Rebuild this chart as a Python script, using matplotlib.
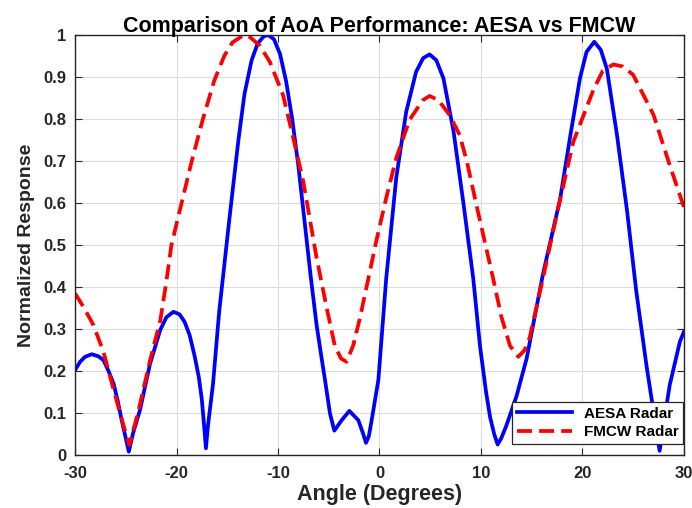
"""AoA comparison: AESA vs FMCW normalized response."""

import matplotlib.pyplot as plt

plt.rcParams["font.family"] = ["Liberation Sans", "DejaVu Sans"]
plt.rcParams["font.weight"] = "bold"
plt.rcParams["axes.unicode_minus"] = False

# values
aesa_angle = [-30, -29.5, -29.0, -28.35, -27.7, -27.2, -26.7, -26.2, -25.8, -25.4,
              -25.0, -24.7, -24.3, -23.6, -22.6, -21.6, -21.0, -20.3, -19.7, -19.2,
              -18.7, -18.2, -17.8, -17.5, -17.3, -17.1, -16.9, -16.4, -15.8, -14.8,
              -13.9, -13.3, -12.6, -12.0, -11.4, -10.95, -10.4, -9.8, -9.2, -8.6,
              -8.0, -7.4, -6.8, -6.2, -5.7, -5.37, -4.88, -4.45, -3.72, -2.97,
              -2.09, -1.6, -1.33, -1.05, -0.77, -0.11, 0.66, 1.65, 2.63, 3.6,
              4.3, 4.93, 5.6, 6.3, 7.3, 8.25, 9.24, 9.9, 10.5, 10.9,
              11.3, 11.64, 12.0, 12.5, 13.5, 14.5, 16.1, 17.8, 18.8, 19.75,
              20.4, 21.16, 21.8, 22.4, 23.4, 24.4, 25.3, 26.3, 27.1, 27.6,
              28.1, 28.6, 29.6, 30]
aesa_resp = [0.202, 0.222, 0.234, 0.240, 0.235, 0.226, 0.20, 0.17, 0.13, 0.083,
             0.04, 0.008, 0.05, 0.107, 0.218, 0.298, 0.328, 0.341, 0.335, 0.317,
             0.285, 0.234, 0.185, 0.131, 0.075, 0.016, 0.07, 0.17, 0.34, 0.56,
             0.75, 0.86, 0.94, 0.98, 0.997, 1.0, 0.99, 0.955, 0.89, 0.80,
             0.69, 0.56, 0.43, 0.31, 0.23, 0.179, 0.099, 0.058, 0.083, 0.105,
             0.083, 0.05, 0.029, 0.045, 0.083, 0.179, 0.42, 0.66, 0.817, 0.912,
             0.945, 0.954, 0.94, 0.897, 0.77, 0.603, 0.42, 0.26, 0.15, 0.09,
             0.05, 0.025, 0.04, 0.07, 0.14, 0.23, 0.43, 0.61, 0.76, 0.897,
             0.96, 0.984, 0.965, 0.92, 0.762, 0.58, 0.39, 0.214, 0.088, 0.01,
             0.09, 0.167, 0.27, 0.294]

fmcw_angle = [-30, -29.1, -28.2, -27.2, -26.1, -25.1, -24.65, -23.8, -22.6, -21.6,
              -21.0, -20.5, -19.5, -18.5, -17.4, -16.3, -15.3, -14.5, -13.4, -12.75,
              -11.8, -10.8, -9.5, -8.5, -7.5, -6.2, -5.2, -4.4, -3.8, -3.25,
              -2.6, -1.93, -1.1, -0.33, 0.66, 1.65, 2.96, 4.27, 4.93, 5.8,
              6.9, 7.9, 8.6, 9.6, 11.2, 12.0, 12.86, 13.68, 14.3, 14.8,
              16.1, 17.45, 19.1, 21.07, 22.0, 23.04, 24.0, 25.0, 27.0, 28.6,
              30]
fmcw_resp = [0.385, 0.35, 0.31, 0.246, 0.147, 0.06, 0.024, 0.10, 0.226, 0.32,
             0.413, 0.50, 0.60, 0.70, 0.80, 0.89, 0.95, 0.982, 1.0, 0.995,
             0.975, 0.936, 0.857, 0.755, 0.65, 0.47, 0.35, 0.26, 0.23, 0.222,
             0.26, 0.326, 0.42, 0.508, 0.612, 0.707, 0.798, 0.845, 0.855, 0.845,
             0.81, 0.762, 0.70, 0.59, 0.42, 0.33, 0.26, 0.234, 0.25, 0.28,
             0.42, 0.571, 0.746, 0.869, 0.915, 0.93, 0.925, 0.905, 0.81, 0.69,
             0.59]

fig = plt.figure(figsize=(6.92, 5.08), dpi=100)
ax = fig.add_axes([0.1084, 0.1043, 0.88, 0.8267])

ax.plot(aesa_angle, aesa_resp, color="#0000ff", lw=2.7, label="AESA Radar")
ax.plot(fmcw_angle, fmcw_resp, color="#ff0000", lw=2.7, ls=(0, (4, 1.9)),
        label="FMCW Radar")

ax.set_xlim(-30, 30)
ax.set_ylim(0, 1)
ax.set_xticks(range(-30, 31, 10))
ax.set_yticks([i / 10 for i in range(11)])
ax.set_yticklabels(["0"] + [f"{i / 10:.1f}" for i in range(1, 10)] + ["1"])
ax.grid(True, color="#dcdcdc", lw=0.8)
ax.set_axisbelow(True)
ax.tick_params(direction="in", top=True, right=True, labelsize=12,
               colors="#262626", length=5, width=0.8)
ax.tick_params(axis="x", pad=8)
ax.tick_params(axis="y", pad=6)
for s in ax.spines.values():
    s.set_color("#262626")
    s.set_linewidth(1.0)

ax.set_xlabel("Angle (Degrees)", fontsize=15.5, fontweight="bold", color="#262626",
              labelpad=2)
ax.set_ylabel("Normalized Response", fontsize=14, fontweight="bold", color="#262626",
              labelpad=6)
ax.set_title("Comparison of AoA Performance: AESA vs FMCW", fontsize=15.5,
             fontweight="bold", pad=2)

leg = ax.legend(loc="lower right", bbox_to_anchor=(0.999, 0.027), fancybox=False,
                edgecolor="#262626", framealpha=1, fontsize=11, handlelength=3.6,
                borderaxespad=0, borderpad=0.3, labelspacing=0.3)
leg.get_frame().set_linewidth(0.9)

fig.savefig("out.png", dpi=100)
